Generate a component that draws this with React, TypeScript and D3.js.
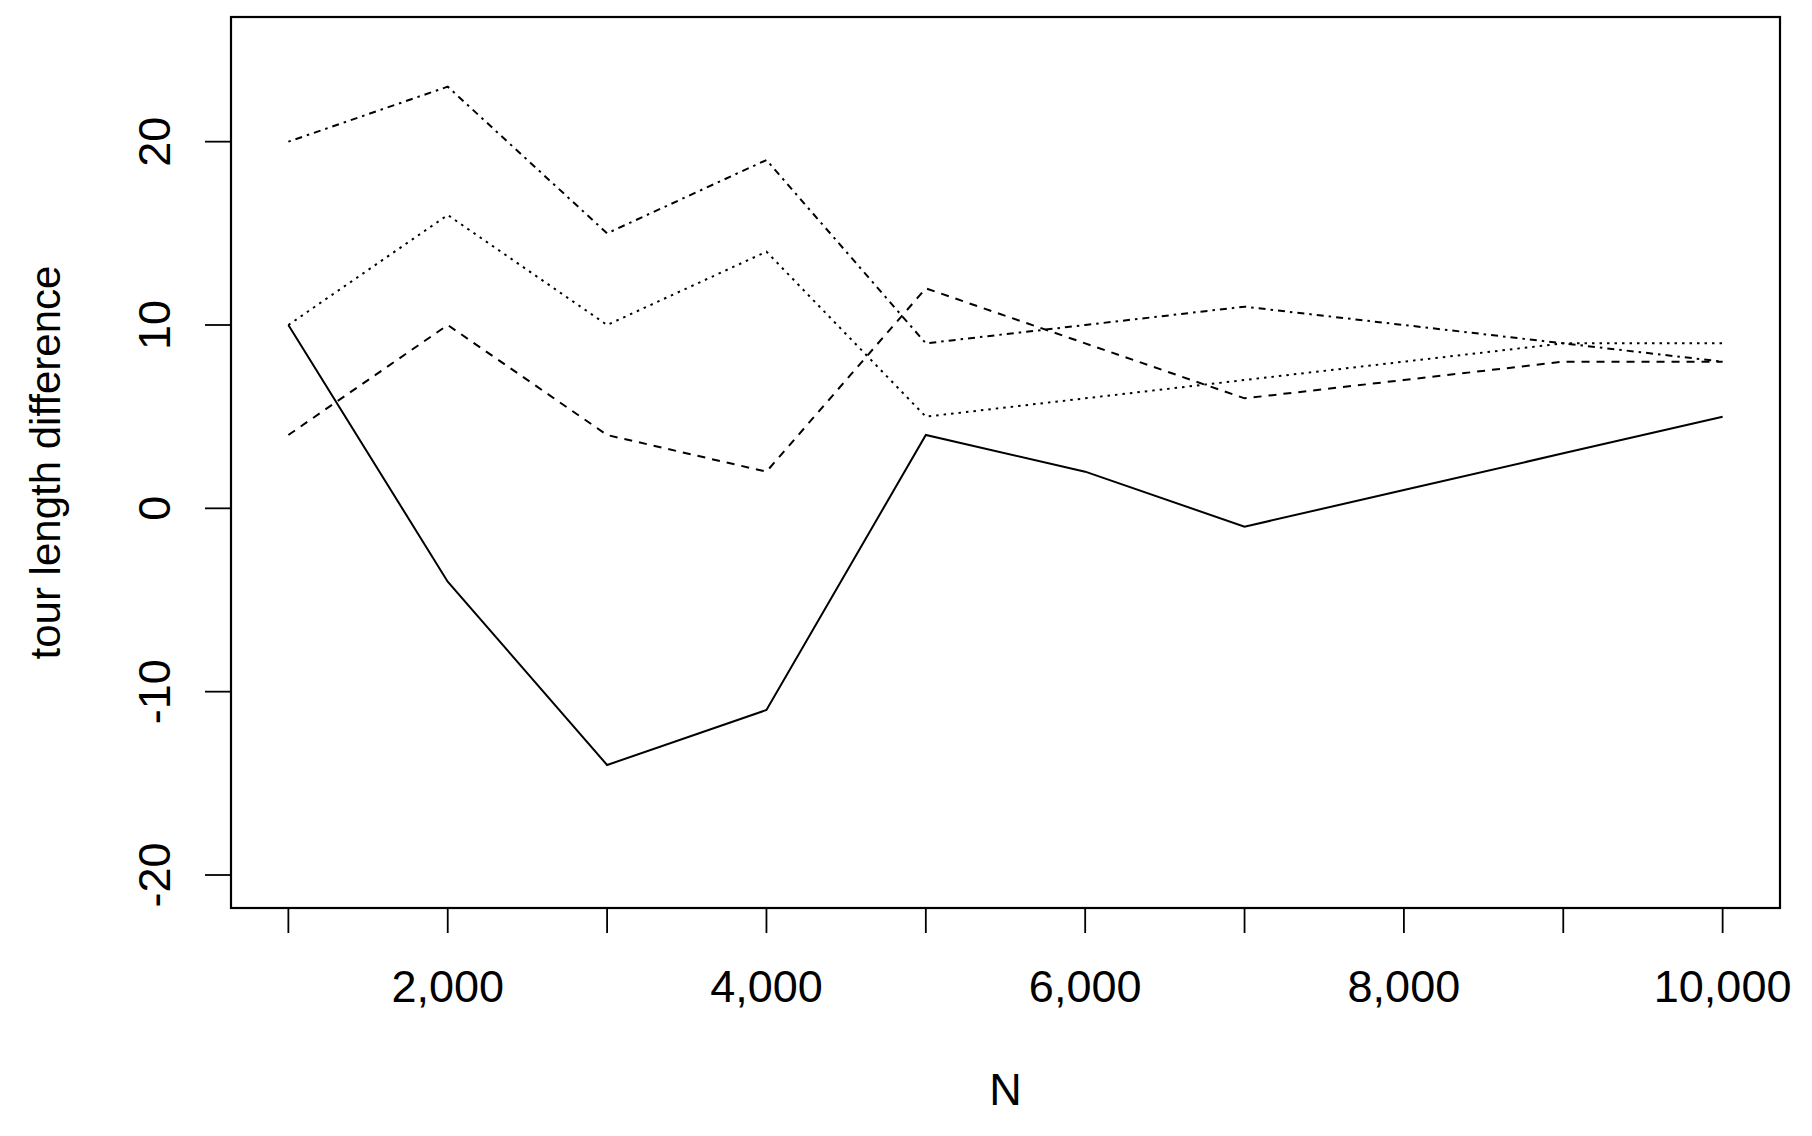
import React from 'react';
import * as d3 from 'd3';

// values
const nValues = [1000, 2000, 3000, 4000, 5000, 6000, 7000, 8000, 9000, 10000];
const solidSeries = [10, -4, -14, -11, 4, 2, -1, 1, 3, 5];
const dotdashSeries = [20, 23, 15, 19, 9, 10, 11, 10, 9, 8];
const dottedSeries = [10, 16, 10, 14, 5, 6, 7, 8, 9, 9];
const dashedSeries = [4, 10, 4, 2, 12, 9, 6, 7, 8, 8];
const yTicks = [-20, -10, 0, 10, 20];
const xLabelTicks = [2000, 4000, 6000, 8000, 10000];

const W = 1812;
const H = 1136;
const box = { left: 231, right: 1780, top: 17, bottom: 908 };
const font = 'Arial, "Liberation Sans", sans-serif';
const fs = 45;

const App = () => {
  // R style: limits padded by 4%
  const x = d3.scaleLinear().domain([640, 10360]).range([box.left, box.right]);
  const y = d3.scaleLinear().domain([-21.8, 26.8]).range([box.bottom, box.top]);

  const line = d3.line<number>()
    .x((_, i) => x(nValues[i]))
    .y(d => y(d));

  const series = [
    { values: solidSeries, dash: null },
    { values: dotdashSeries, dash: '2.5,5,7,5' },
    { values: dottedSeries, dash: '2.5,5' },
    { values: dashedSeries, dash: '8,7' },
  ];

  const fmt = d3.format(',');

  return (
    <svg width={W} height={H} style={{ position: 'absolute', left: 0, top: 0, background: '#fff' }}>
      <rect x={0} y={0} width={W} height={H} fill="#fff" />

      {series.map((s, i) => (
        <path
          key={i}
          d={line(s.values) || ''}
          fill="none"
          stroke="#000"
          strokeWidth={2}
          strokeDasharray={s.dash || undefined}
        />
      ))}

      <rect
        x={box.left}
        y={box.top}
        width={box.right - box.left}
        height={box.bottom - box.top}
        fill="none"
        stroke="#000"
        strokeWidth={2.2}
      />

      {/* x axis ticks */}
      {nValues.map(v => (
        <line key={v} x1={x(v)} x2={x(v)} y1={box.bottom} y2={box.bottom + 25} stroke="#000" strokeWidth={1.8} />
      ))}
      {xLabelTicks.map(v => (
        <text key={v} x={x(v)} y={1002} textAnchor="middle" fontFamily={font} fontSize={fs}>
          {fmt(v)}
        </text>
      ))}

      {/* y axis ticks */}
      {yTicks.map(v => (
        <g key={v}>
          <line x1={box.left - 26} x2={box.left} y1={y(v)} y2={y(v)} stroke="#000" strokeWidth={1.8} />
          <text
            transform={`translate(170,${y(v)}) rotate(-90)`}
            textAnchor="middle"
            fontFamily={font}
            fontSize={fs}
          >
            {v}
          </text>
        </g>
      ))}

      <text x={(box.left + box.right) / 2} y={1105} textAnchor="middle" fontFamily={font} fontSize={fs}>
        N
      </text>
      <text
        transform={`translate(60,${(box.top + box.bottom) / 2}) rotate(-90)`}
        textAnchor="middle"
        fontFamily={font}
        fontSize={42}
      >
        tour length difference
      </text>
    </svg>
  );
};

export default App;
